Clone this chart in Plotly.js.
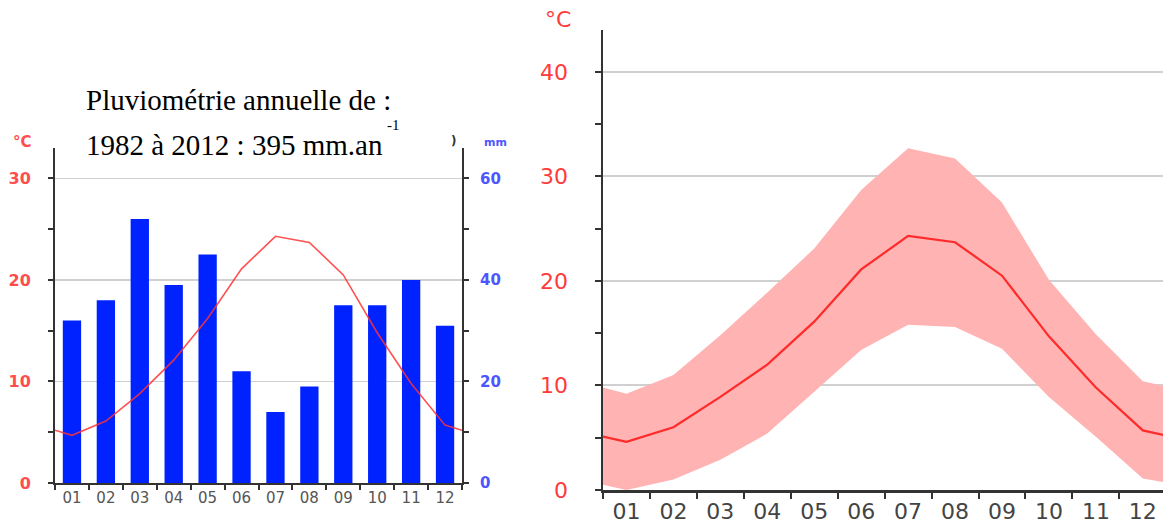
<!DOCTYPE html>
<html>
<head>
<meta charset="utf-8">
<script src="https://cdn.plot.ly/plotly-3.0.1.min.js"></script>
<style>html,body{margin:0;padding:0;background:#fff;}#chart{width:1163px;height:526px;}</style>
</head>
<body>
<div id="chart"></div>
<script>
// ---- data ----
const monthLabels = ['01','02','03','04','05','06','07','08','09','10','11','12'];
const rainMM = [32, 36, 52, 39, 45, 22, 14, 19, 35, 35, 40, 31];
const tempMeanLeft = [4.7, 6.1, 8.8, 12.1, 16.2, 21.1, 24.3, 23.7, 20.5, 14.8, 9.8, 5.7];
const tempEdgeLeft = [5.2, 5.2];           // value at left / right plot edges
const tempMean = [4.6, 6.0, 8.9, 12.0, 16.1, 21.1, 24.3, 23.7, 20.5, 14.7, 9.8, 5.7];
const tempMeanEdge = [5.1, 5.2];
const tempUpper = [9.2, 11.0, 14.8, 18.9, 23.1, 28.7, 32.7, 31.7, 27.5, 20.1, 14.9, 10.4];
const tempUpperEdge = [9.8, 9.9];
const tempLower = [0.0, 1.0, 2.9, 5.4, 9.4, 13.4, 15.8, 15.6, 13.5, 8.9, 5.1, 1.1];
const tempLowerEdge = [0.5, 0.7];
const leftTempTicks = [0, 10, 20, 30];
const leftTempTickText = ['\u20070', '10', '20', '30'];
const rainTicks = [0, 10, 20, 30, 40, 50, 60];
const rainTickText = ['0', '', '20', '', '40', '', '60'];
const rightTempTicks = [0, 10, 20, 30, 40];
const rightTempTickText = ['\u20070', '10', '20', '30', '40'];
const titleLine1 = 'Pluviométrie annuelle de :';
const titleLine2 = '1982 à 2012 : 395 mm.an';
const titleSup = '-1';

// ---- helpers ----
const W = 1163, H = 526;
const px = v => v / W;
const py = v => 1 - v / H;
const months = monthLabels.map((_, i) => i + 1);
const bounds = [0.5].concat(months.map(m => m + 0.5));
const withEdges = (vals, edges) => [edges[0]].concat(vals, [edges[1]]);
const xEdges = [months[0] - 0.5].concat(months, [months[months.length - 1] + 0.5]);

const axisDark = '#333333';
const gridCol = '#d0d0d0';
const redTick = '#ff4d4d';
const blueTick = '#4d55ff';

const traces = [
  { type: 'bar', x: months, y: rainMM, xaxis: 'x', yaxis: 'y', width: 0.54,
    marker: { color: '#0022ff', line: { width: 0 } }, hoverinfo: 'skip' },
  { type: 'scatter', mode: 'lines', x: xEdges, y: withEdges(tempMeanLeft, tempEdgeLeft),
    xaxis: 'x', yaxis: 'y2', line: { color: 'rgba(255,50,50,0.85)', width: 1.6 }, hoverinfo: 'skip' },
  { type: 'scatter', mode: 'lines', x: xEdges, y: withEdges(tempLower, tempLowerEdge),
    xaxis: 'x2', yaxis: 'y3', line: { width: 0, color: 'rgba(0,0,0,0)' }, hoverinfo: 'skip' },
  { type: 'scatter', mode: 'lines', x: xEdges, y: withEdges(tempUpper, tempUpperEdge),
    xaxis: 'x2', yaxis: 'y3', fill: 'tonexty', fillcolor: '#ffb3b3',
    line: { width: 0, color: 'rgba(0,0,0,0)' }, hoverinfo: 'skip' },
  { type: 'scatter', mode: 'lines', x: xEdges, y: withEdges(tempMean, tempMeanEdge),
    xaxis: 'x2', yaxis: 'y3', line: { color: '#ff2a2a', width: 2.2 }, hoverinfo: 'skip' }
];

const layout = {
  width: W, height: H,
  margin: { l: 0, r: 0, t: 0, b: 0, pad: 0 },
  paper_bgcolor: '#ffffff', plot_bgcolor: 'rgba(0,0,0,0)',
  showlegend: false,
  xaxis: {
    domain: [px(55), px(462)], range: [0.5, 12.5], anchor: 'y',
    tickmode: 'array', tickvals: months, ticktext: monthLabels, ticks: '',
    tickfont: { family: 'DejaVu Sans', size: 15, color: '#555555' },
    showline: true, linecolor: axisDark, linewidth: 2, showgrid: false, zeroline: false,
    minor: { tickmode: 'array', tickvals: bounds, ticks: 'outside', ticklen: 5, tickwidth: 2, tickcolor: axisDark, showgrid: false },
    fixedrange: true
  },
  yaxis: {
    domain: [1 - 483 / H, 1 - 148 / H], range: [0, 66], anchor: 'x', side: 'right',
    tickmode: 'array', tickvals: rainTicks, ticktext: rainTickText,
    ticks: 'outside', ticklen: 5, tickwidth: 2, tickcolor: axisDark,
    tickfont: { family: 'DejaVu Sans', size: 15, color: blueTick, weight: 'bold' },
    showline: true, linecolor: axisDark, linewidth: 2, showgrid: false, zeroline: false,
    ticklabelstandoff: 8, fixedrange: true
  },
  yaxis2: {
    domain: [1 - 483 / H, 1 - 148 / H], range: [0, 33], anchor: 'x', overlaying: 'y', side: 'left',
    tickmode: 'array', tickvals: leftTempTicks, ticktext: leftTempTickText,
    ticks: 'outside', ticklen: 5, tickwidth: 2, tickcolor: axisDark,
    tickfont: { family: 'DejaVu Sans', size: 16, color: redTick, weight: 'bold' },
    showline: true, linecolor: axisDark, linewidth: 2,
    showgrid: true, gridcolor: gridCol, gridwidth: 1.5, zeroline: false,
    minor: { tickmode: 'linear', tick0: 0, dtick: 5, ticks: 'outside', ticklen: 5, tickwidth: 2, tickcolor: axisDark, showgrid: false },
    ticklabelstandoff: 14, fixedrange: true
  },
  xaxis2: {
    domain: [px(603), 1], range: [0.5, 12.43], anchor: 'y3',
    tickmode: 'array', tickvals: months, ticktext: monthLabels, ticks: '',
    tickfont: { family: 'DejaVu Sans', size: 22, color: '#444444' },
    showline: true, linecolor: axisDark, linewidth: 2.5, showgrid: false, zeroline: false,
    minor: { tickmode: 'array', tickvals: bounds, ticks: 'outside', ticklen: 6, tickwidth: 2, tickcolor: axisDark, showgrid: false },
    fixedrange: true
  },
  yaxis3: {
    domain: [1 - 490 / H, 1 - 30 / H], range: [0, 44], anchor: 'x2',
    tickmode: 'array', tickvals: rightTempTicks, ticktext: rightTempTickText,
    ticks: 'outside', ticklen: 6, tickwidth: 2, tickcolor: axisDark,
    tickfont: { family: 'DejaVu Sans', size: 22, color: '#ff3b3b' },
    showline: true, linecolor: axisDark, linewidth: 2.5,
    showgrid: true, gridcolor: gridCol, gridwidth: 2, zeroline: false,
    minor: { tickmode: 'linear', tick0: 0, dtick: 5, ticks: 'outside', ticklen: 6, tickwidth: 2, tickcolor: axisDark, showgrid: false },
    ticklabelstandoff: 22, fixedrange: true
  },
  annotations: [
    { xref: 'paper', yref: 'paper', x: px(84), y: py(100), xanchor: 'left', yanchor: 'middle', showarrow: false,
      text: titleLine1, font: { family: 'Liberation Serif', size: 29, color: '#000' } },
    { xref: 'paper', yref: 'paper', x: px(84), y: py(145), xanchor: 'left', yanchor: 'middle', showarrow: false,
      text: titleLine2, font: { family: 'Liberation Serif', size: 29, color: '#000' } },
    { xref: 'paper', yref: 'paper', x: px(385), y: py(125), xanchor: 'left', yanchor: 'middle', showarrow: false,
      text: titleSup, font: { family: 'Liberation Serif', size: 15, color: '#000' } },
    { xref: 'paper', yref: 'paper', x: px(11), y: py(142), xanchor: 'left', yanchor: 'middle', showarrow: false,
      text: '°C', font: { family: 'DejaVu Sans', size: 15, color: redTick, weight: 'bold' } },
    { xref: 'paper', yref: 'paper', x: px(449), y: py(141), xanchor: 'left', yanchor: 'middle', showarrow: false,
      text: ')', font: { family: 'DejaVu Sans', size: 12, color: '#333', weight: 'bold' } },
    { xref: 'paper', yref: 'paper', x: px(482), y: py(142), xanchor: 'left', yanchor: 'middle', showarrow: false,
      text: 'mm', font: { family: 'DejaVu Sans', size: 11, color: blueTick, weight: 'bold' } },
    { xref: 'paper', yref: 'paper', x: px(543), y: py(20), xanchor: 'left', yanchor: 'middle', showarrow: false,
      text: '°C', font: { family: 'DejaVu Sans', size: 22, color: '#ff3b3b' } }
  ]
};

Plotly.newPlot('chart', traces, layout, { displayModeBar: false, staticPlot: true });
</script>
</body>
</html>
